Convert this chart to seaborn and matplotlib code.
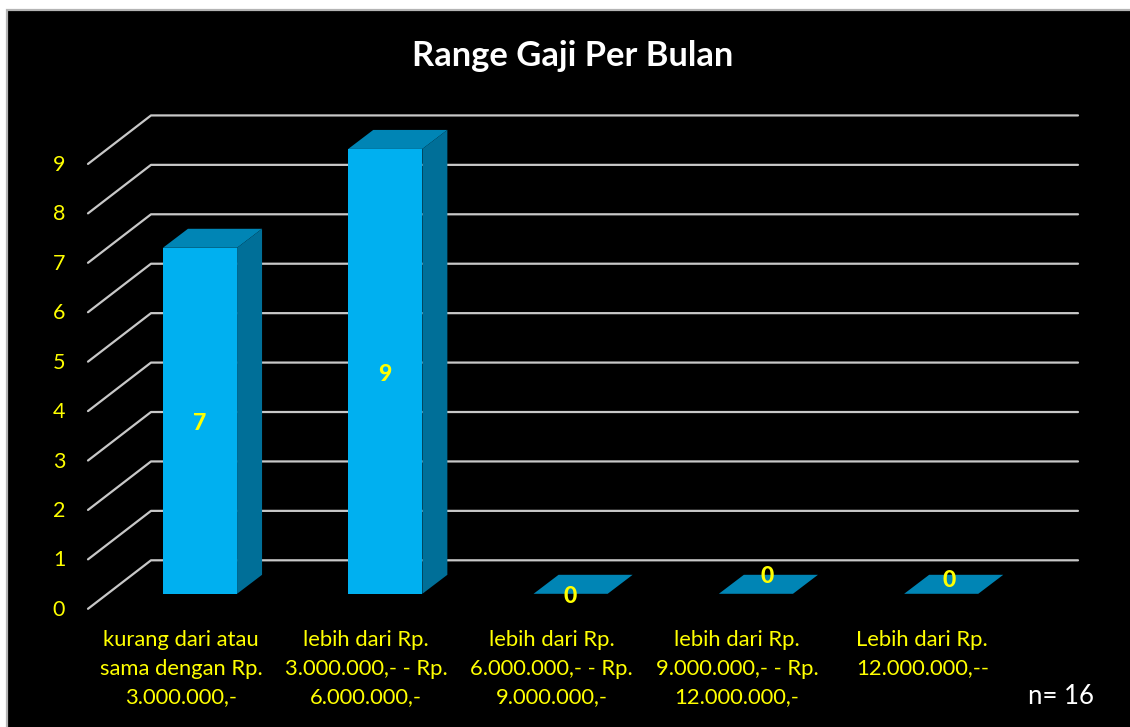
import pandas as pd
import matplotlib.pyplot as plt
import seaborn as sns
from matplotlib.patches import Polygon, Rectangle
from matplotlib.transforms import ScaledTranslation

# Chart data
categories = [
    'kurang dari atau\nsama dengan Rp.\n3.000.000,-',
    'lebih dari Rp.\n3.000.000,- - Rp.\n6.000.000,-',
    'lebih dari Rp.\n6.000.000,- - Rp.\n9.000.000,-',
    'lebih dari Rp.\n9.000.000,- - Rp.\n12.000.000,-',
    'Lebih dari Rp.\n12.000.000,--',
]
counts = [7, 9, 0, 0, 0]
y_ticks = [0, 1, 2, 3, 4, 5, 6, 7, 8, 9]
title = 'Range Gaji Per Bulan'
note = 'n= 16'

# Pixel layout
W, H = 1130, 727
FONT = 'Lato'
YELLOW = '#FFFF00'
FRONT, TOP, SIDE = '#00B0F0', '#0085B5', '#006F98'
GRID = '#C8C8C8'
UNIT_X = 185.3   # px per category
UNIT_Y = 49.43   # px per count
AX_L, AX_R, AX_B = 88, 1078, 593.8
CENTER0 = 200
DEPTH_X, DEPTH_Y = 25, 19

plt.rcParams['font.family'] = [FONT, 'DejaVu Sans']
fig = plt.figure(figsize=(W / 100, H / 100), dpi=100, facecolor='white')
fig.add_artist(Rectangle((7 / W, -0.1), 1.1, 1.1 - 10 / H, transform=fig.transFigure,
                         facecolor='black', edgecolor='#B4B4B4', linewidth=1.6, zorder=-1))

ax = fig.add_axes([AX_L / W, 1 - AX_B / H, (AX_R - AX_L) / W, 9 * UNIT_Y / H])
ax.patch.set_alpha(0)

df = pd.DataFrame({'category': categories, 'count': counts})
sns.barplot(data=df, x='category', y='count', color=FRONT, saturation=1,
            width=0.4, ax=ax, zorder=3)

ax.set_xlim((AX_L - CENTER0) / UNIT_X, (AX_R - CENTER0) / UNIT_X)
ax.set_ylim(0, 9)
ax.set_xlabel('')
ax.set_ylabel('')
for s in ax.spines.values():
    s.set_visible(False)

dx = DEPTH_X / UNIT_X
dy = DEPTH_Y / UNIT_Y

# 3D faces of the bars
for bar in list(ax.patches):
    x0, w, h = bar.get_x(), bar.get_width(), bar.get_height()
    x1 = x0 + w
    ax.add_patch(Polygon([(x0, h), (x1, h), (x1 + dx, h + dy), (x0 + dx, h + dy)],
                         facecolor=TOP, edgecolor='none', zorder=3, clip_on=False))
    if h > 0:
        ax.add_patch(Polygon([(x1, 0), (x1, h), (x1 + dx, h + dy), (x1 + dx, dy)],
                             facecolor=SIDE, edgecolor='none', zorder=3, clip_on=False))

# Gridlines: floor/wall bend, wall runs to the right
x_left = ax.get_xlim()[0]
x_right = ax.get_xlim()[1]
for v in y_ticks:
    ax.plot([x_left, x_left + 63 / UNIT_X, x_right],
            [v - 15 / UNIT_Y, v + 33.5 / UNIT_Y, v + 33.5 / UNIT_Y],
            color=GRID, lw=1.6, zorder=1, clip_on=False, solid_capstyle='round')
    ax.annotate(str(v), xy=(x_left, v), xytext=(-29, -16), textcoords='offset pixels',
                color=YELLOW, fontsize=15.5, ha='center', va='center', annotation_clip=False)
ax.set_yticks([])

# Category labels sit a little left of the bars
ax.tick_params(axis='x', length=0, pad=26, colors=YELLOW, labelsize=15.8)
shift = ScaledTranslation(-19 / 100, 0, fig.dpi_scale_trans)
for lab in ax.get_xticklabels():
    lab.set_transform(lab.get_transform() + shift)
    lab.set_linespacing(1.54)
    lab.set_ha('center')

# Value labels
label_offsets = [(0, -3), (0, -3), (0, -3), (11, 17), (8, 13)]
for i, (c, off) in enumerate(zip(counts, label_offsets)):
    ax.annotate(str(c), xy=(i, c / 2), xytext=off, textcoords='offset pixels',
                color=YELLOW, fontsize=16.5, fontweight='black', ha='center', va='center',
                zorder=5, annotation_clip=False)

fig.text(573 / W, 1 - 56 / H, title, color='white', fontsize=24.8, fontweight='bold',
         ha='center', va='center')
fig.text(1061 / W, 1 - 696 / H, note, color='white', fontsize=18.5, ha='center', va='center')

fig.savefig('out.png', dpi=100, facecolor=fig.get_facecolor())
